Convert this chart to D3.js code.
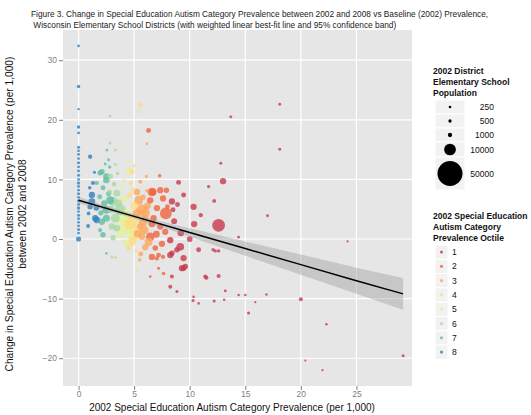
<!DOCTYPE html>
<html><head><meta charset="utf-8">
<script src="https://cdn.jsdelivr.net/npm/d3@7"></script>
<style>body{margin:0;background:#fff}svg{display:block;font-family:"Liberation Sans",Arial,sans-serif}</style>
</head><body><svg id="c" width="531" height="415"></svg>
<script>
// ---- data ----
// 2002 prevalence (per 1,000)
const prev2002 = [
 // octile 8
 0,0,0,0,0,0,0,0,0,0,0,0,0,0,0,0,0,0,0,0,0,0,0,0,0,0,0,0,0,0,
 1.04,1.43,1.2,1.2,1.04,1.6,1.5,0.86,1.3,1.0,0.9,1.64,
 // octile 7
 1.94,1.64,2.5,2.1,2.5,2.2,1.9,2.84,2.5,2.1,1.94,2.2,2.5,2.55,2.7,2.8,2.5,2.3,2.0,2.7,2.4,
 // octile 6
 2.84,2.84,2.84,2.8,3.45,3.1,3.75,3.3,3.45,3.0,3.3,3.0,3.3,3.2,2.9,3.5,3.1,3.6,3.3,
 // octile 5
 4.0,4.35,4.2,4.65,3.75,4.0,3.45,4.5,4.1,3.9,4.3,3.8,4.4,4.1,4.3,
 // octile 4
 4.9,5.1,4.8,4.8,5.0,4.6,5.55,5.4,5.25,4.7,5.0,4.5,5.2,4.9,4.6,5.0,
 // octile 3
 5.4,5.7,5.25,6.0,5.55,5.7,5.25,5.55,6.15,6.15,6.0,5.6,5.9,6.2,5.3,6.3,5.8,6.1,5.5,6.0,5.8,
 // octile 2
 6.6,7.35,7.6,6.45,7.85,7.05,6.75,7.35,6.45,6.6,7.2,7.6,7.05,6.45,7.2,7.65,6.3,7.9,6.7,7.0,7.5,6.9,7.8,6.6,7.3,8.0,
 // octile 1
 8.4,8.5,9.0,9.45,10.35,12.6,10.4,13.0,12.2,12.8,11.7,8.25,9.15,9.45,8.85,8.4,8.25,9.6,9.3,10.8,12.1,12.3,12.6,11.5,12.6,13.2,
 10.3,10.8,12.2,13.1,15.0,15.9,16.9,15.3,20.0,22.3,20.4,21.95,29.2,24.2,17.0,14.4,13.7,18.1,18.1,8.25,8.85,8.4,10.35,14.4,9.45,11.4,8.6,9.2,8.9,10.0,11.0
];
// change in prevalence 2002 -> 2008 (per 1,000)
const change = [
 32.4,25.6,21.8,18.8,17.8,15.4,14.8,14.2,13.5,12.8,12.1,11.4,10.7,10.0,9.4,8.8,8.2,7.6,7.0,6.4,5.8,5.2,4.6,4.0,3.4,2.8,2.2,1.6,1.0,0.0,
 13.8,11.2,7.4,6.3,5.4,5.2,3.5,2.2,9.4,8.6,4.3,3.2,
 11.1,9.4,10.5,11.3,9.9,8.6,7.1,6.5,4.9,2.9,1.5,0.7,3.5,14.9,13.3,12.1,-2.4,6.0,4.4,7.6,12.6,
 16.1,20.6,10.5,7.9,7.7,6.3,4.9,3.5,1.8,2.1,14.9,-3.0,-3.1,9.2,5.0,11.0,0.2,6.0,12.5,
 3.2,4.3,2.1,1.0,15.1,-3.8,-3.5,11.3,6.7,8.8,-0.6,0.8,13.0,9.8,3.5,
 3.2,1.5,-0.4,11.3,5.6,7.4,22.5,21.4,-5.2,9.4,12.3,-1.5,-2.0,8.3,2.5,0.5,
 6.5,4.9,4.3,3.5,2.1,0.4,7.9,9.6,8.1,16.0,-1.4,-2.5,1.5,5.6,0.9,-0.5,7.0,10.5,-3.5,4.4,2.8,
 7.9,8.2,6.8,6.5,4.3,5.2,3.5,2.1,0.4,-3.0,-2.7,-3.0,-3.25,-6.3,-4.9,-5.8,18.2,8.2,7.9,0.8,-0.8,-1.5,1.2,2.6,10.6,5.4,
 6.3,4.9,9.5,7.4,5.4,2.3,2.5,9.7,6.4,12.7,8.8,-0.2,-1.3,-3.2,-1.8,-2.4,-2.7,-4.6,-4.9,-1.8,-1.8,-2.0,-2.0,-6.5,-6.2,-8.7,
 -10.3,-10.8,-10.4,-10.2,-9.4,-10.6,-9.3,-12.4,-10.1,-14.3,-20.4,-22.0,-19.6,-0.4,3.9,0.3,20.5,22.6,15.05,-8.0,-8.8,-6.3,-9.7,-9.4,-4.9,-6.3,3.0,1.0,5.8,0.0,4.0
];
// 2002 district elementary school population
const population = [
 250,600,200,500,300,400,300,350,300,450,300,350,400,300,500,350,300,450,300,400,350,500,300,400,300,350,300,400,300,1500,
 1000,400,2500,2800,1800,1800,2500,800,900,600,700,2800,
 1800,900,2500,1800,2800,1400,1400,4300,4300,2500,900,1800,3200,300,400,500,250,2200,1600,1400,350,
 300,300,1800,1200,2800,5500,9000,5500,2800,2800,300,250,250,1200,3200,600,1800,3500,400,
 9000,5500,9000,5500,300,250,250,2200,2800,900,2500,3500,500,700,9000,
 9000,9000,5500,1800,3500,1800,1400,250,250,700,500,1800,900,1200,9000,6000,
 5500,9000,5500,2800,2800,2800,2800,900,600,250,2500,1400,5500,3200,3500,4300,1800,500,600,6000,5000,
 5000,2500,2500,2500,10000,2500,2500,2500,5000,2500,1400,900,900,300,400,600,1400,1800,3200,3000,2500,1800,2500,3500,600,1400,
 2500,1400,1400,1400,2500,12000,2500,2500,800,350,500,2500,4000,2500,1800,1800,2500,1800,2500,1400,500,500,500,900,900,300,
 400,250,400,250,250,150,250,400,800,250,150,150,400,150,350,300,350,350,350,800,400,800,250,250,1800,900,2200,2800,1400,2000,1000
];
// prevalence octile per district (counts of districts listed above, in order)
const octileCounts = [[8,42],[7,21],[6,19],[5,15],[4,16],[3,21],[2,26],[1,57]];
const octile = octileCounts.flatMap(([o,n]) => Array(n).fill(o));
// weighted linear fit and 95% band
const fitX = [0, 5, 10, 15, 20, 25, 29.2];
const fitY = [6.5, 3.8, 1.1, -1.6, -4.3, -7.0, -9.2];
const bandLo = [5.95, 3.45, 0.4, -2.8, -6.0, -9.2, -11.85];
const bandHi = [7.05, 4.15, 1.8, -0.4, -2.6, -4.8, -6.55];
const xTicks = [0, 5, 10, 15, 20, 25];
const yTicks = [-20, -10, 0, 10, 20, 30];
const sizeBreaks = [250, 500, 1000, 10000, 50000];
const octileLevels = [1, 2, 3, 4, 5, 6, 7, 8];
const octileColors = ["#c83a4c", "#f0643f", "#fca85c", "#fddc84", "#e3f295", "#a6d9a1", "#5fbea2", "#2f80bd"];
const titleLines = ["Figure 3. Change in Special Education Autism Category Prevalence between 2002 and 2008 vs Baseline (2002) Prevalence,",
 " Wisconsin Elementary School Districts (with weighted linear best-fit line and 95% confidence band)"];

// ---- drawing ----
const svg = d3.select("#c");
const L = 63, R = 412, T = 30, B = 386;
const x = d3.scaleLinear().domain([-1.4, 30.0]).range([L, R]);
const y = d3.scaleLinear().domain([-24.66, 35.07]).range([B, T]);
const r = d3.scaleSqrt().domain([0, 50000]).range([0.45, 12.5]);
const col = d3.scaleOrdinal().domain(octileLevels).range(octileColors);

svg.append("rect").attr("x", L).attr("y", T).attr("width", R - L).attr("height", B - T).attr("fill", "#e6e6e6");
const g = svg.append("g");
g.selectAll(".gx").data(xTicks).join("line").attr("x1", d => x(d)).attr("x2", d => x(d))
 .attr("y1", T).attr("y2", B).attr("stroke", "#fff").attr("stroke-width", 1.2);
g.selectAll(".gy").data(yTicks).join("line").attr("y1", d => y(d)).attr("y2", d => y(d))
 .attr("x1", L).attr("x2", R).attr("stroke", "#fff").attr("stroke-width", 1.2);

const pts = d3.range(prev2002.length).map(i => ({x: prev2002[i], y: change[i], p: population[i], o: octile[i]}))
 .sort((a, b) => b.p - a.p);
svg.append("g").selectAll("circle").data(pts).join("circle")
 .attr("cx", d => x(d.x)).attr("cy", d => y(d.y)).attr("r", d => r(d.p))
 .attr("fill", d => col(d.o)).attr("fill-opacity", 0.8);

const band = fitX.map((v, i) => ({x: v, lo: bandLo[i], hi: bandHi[i], m: fitY[i]}));
svg.append("path").datum(band).attr("d", d3.area().x(d => x(d.x)).y0(d => y(d.lo)).y1(d => y(d.hi)).curve(d3.curveMonotoneX))
 .attr("fill", "#999").attr("fill-opacity", 0.4);
svg.append("path").datum(band).attr("d", d3.line().x(d => x(d.x)).y(d => y(d.m)))
 .attr("fill", "none").attr("stroke", "#000").attr("stroke-width", 1.5);

// axes
const xa = svg.append("g").attr("transform", `translate(0,${B})`)
 .call(d3.axisBottom(x).tickValues(xTicks).tickSize(4).tickPadding(1));
const ya = svg.append("g").attr("transform", `translate(${L},0)`)
 .call(d3.axisLeft(y).tickValues(yTicks).tickSize(4).tickPadding(2));
[xa, ya].forEach(a => {
 a.select(".domain").remove();
 a.selectAll("line").attr("stroke", "#7f7f7f");
 a.selectAll("text").attr("fill", "#7f7f7f").attr("font-size", 8.5).attr("font-family", "Liberation Sans, Arial");
});

svg.append("text").attr("x", 232).attr("y", 410.5).attr("text-anchor", "middle")
 .attr("font-size", 10).attr("fill", "#111").text("2002 Special Education Autism Category Prevalence (per 1,000)");
const yt = svg.append("text").attr("transform", "translate(13,214) rotate(-90)").attr("text-anchor", "middle")
 .attr("font-size", 10.2).attr("fill", "#111");
yt.append("tspan").attr("x", 0).attr("dy", 0).text("Change in Special Education Autism Category Prevalence (per 1,000)");
yt.append("tspan").attr("x", 0).attr("dy", 12.5).text("between 2002 and 2008");

svg.selectAll(".title").data(titleLines).join("text").attr("x", 31).attr("y", (d, i) => 17 + i * 11)
 .attr("font-size", 8.3).attr("fill", "#222").attr("xml:space", "preserve").text(d => d);

// size legend
const sl = svg.append("g");
["2002 District", "Elementary School", "Population"].forEach((t, i) =>
 sl.append("text").attr("x", 433).attr("y", 74 + i * 11).attr("font-size", 8.5).attr("font-weight", "bold").attr("fill", "#111").text(t));
const sizeRows = [[100, 14], [114, 14], [128, 14], [142, 15], [157, 33]];
sizeBreaks.forEach((v, i) => {
 const [yy, hh] = sizeRows[i];
 sl.append("rect").attr("x", 435).attr("y", yy).attr("width", 30).attr("height", hh).attr("fill", "#f2f2f2").attr("stroke", "#fff");
 sl.append("circle").attr("cx", 450).attr("cy", yy + hh / 2).attr("r", r(v)).attr("fill", "#000");
 sl.append("text").attr("x", 494).attr("y", yy + hh / 2 + 3).attr("text-anchor", "end").attr("font-size", 8.5).attr("fill", "#111").text(v);
});

// octile legend
const cl = svg.append("g");
["2002 Special Education", "Autism Category", "Prevalence Octile"].forEach((t, i) =>
 cl.append("text").attr("x", 433).attr("y", 219 + i * 11).attr("font-size", 8.5).attr("font-weight", "bold").attr("fill", "#111").text(t));
octileLevels.forEach((o, i) => {
 const cy = 252 + i * 14.3;
 cl.append("rect").attr("x", 435).attr("y", cy - 7).attr("width", 13).attr("height", 14.3).attr("fill", "#f2f2f2").attr("stroke", "#fff");
 cl.append("circle").attr("cx", 441.5).attr("cy", cy).attr("r", 1.6).attr("fill", col(o)).attr("fill-opacity", 0.8);
 cl.append("text").attr("x", 452).attr("y", cy + 3).attr("font-size", 8.5).attr("fill", "#111").text(o);
});
</script></body></html>
